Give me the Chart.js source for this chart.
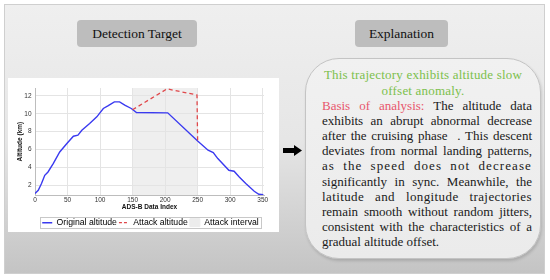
<!DOCTYPE html>
<html>
<head>
<meta charset="utf-8">
<script src="https://cdn.jsdelivr.net/npm/chart.js@4.4.1/dist/chart.umd.min.js"></script>
<style>
  html, body { margin: 0; padding: 0; background: #ffffff; }
  body { width: 550px; height: 280px; position: relative; overflow: hidden; }
  #outer { position: absolute; left: 4px; top: 4px; width: 539px; height: 268px;
    border: 1px solid #cfcfcf;
    background: linear-gradient(to bottom, #efefef 0%, #e6e6e6 50%, #c4c4c4 100%); }
  .tag { position: absolute; top: 20px; height: 27px; background: #bdbdbd; border-radius: 4px;
    font-family: "Liberation Serif", serif; font-size: 13.5px; color: #111;
    display: flex; align-items: center; justify-content: center; }
  #panel { position: absolute; left: 8px; top: 78px; width: 271px; height: 154px; background: #ffffff; }
  #c { position: absolute; left: 0; top: 0; }
  #bubble { position: absolute; left: 305px; top: 58px; width: 234px; height: 199px;
    border: 1px solid #c4c4c4; border-radius: 34px;
    background: linear-gradient(to bottom, #f1f1f1, #ebebeb);
    box-shadow: 1px 2px 3px rgba(0,0,0,0.15); }
  .ln { position: absolute; left: 322px; width: 210px; font-family: "Liberation Serif", serif;
    font-size: 13px; line-height: 15px; height: 15px; color: #1a1a1a; white-space: nowrap;
    text-align: justify; text-align-last: justify; }
  .g { color: #7cc04c; text-align: center; text-align-last: center; left: 313px; width: 220px; letter-spacing: 0.2px; }
  .r { color: #e8566c; }
  .last { text-align: left; text-align-last: left; }
  #arrow { position: absolute; left: 283px; top: 145px; }
</style>
</head>
<body>
<div id="outer"></div>
<div class="tag" style="left:77px;width:120px;">Detection Target</div>
<div class="tag" style="left:355px;width:93px;">Explanation</div>
<div id="panel"><canvas id="c" width="271" height="160"></canvas></div>
<svg id="arrow" width="20" height="11" viewBox="0 0 20 11"><path d="M0 3 H11 V0 L19 5.5 L11 11 V8 H0 Z" fill="#000"/></svg>
<div id="bubble"></div>
<div class="ln g" style="top:67px;">This trajectory exhibits altitude slow</div>
<div class="ln g" style="top:83px;">offset anomaly.</div>
<div class="ln" style="top:98px;"><span class="r">Basis of analysis:</span> The altitude data</div>
<div class="ln" style="top:113px;">exhibits an abrupt abnormal decrease</div>
<div class="ln" style="top:128px;">after the cruising phase&nbsp; . This descent</div>
<div class="ln" style="top:143px;">deviates from normal landing patterns,</div>
<div class="ln" style="top:158px;letter-spacing:1.1px;">as the speed does not decrease</div>
<div class="ln" style="top:174px;">significantly in sync. Meanwhile, the</div>
<div class="ln" style="top:189px;letter-spacing:0.4px;">latitude and longitude trajectories</div>
<div class="ln" style="top:204px;">remain smooth without random jitters,</div>
<div class="ln" style="top:219px;">consistent with the characteristics of a</div>
<div class="ln last" style="top:234px;">gradual altitude offset.</div>
<script>
// ---- data ----
const xTicks = [0, 50, 100, 150, 200, 250, 300, 350];
const yTicks = [2, 4, 6, 8, 10, 12];
const originalIndex = [0, 5, 10, 15, 20, 28, 38, 49, 59, 66, 72, 84, 95, 105, 112, 122, 130, 138, 148, 156, 204, 250, 266, 274, 281, 298, 306, 314, 324, 337, 344, 351];
const originalAltitude = [1.07, 1.44, 2.19, 3.12, 3.49, 4.43, 5.73, 6.67, 7.49, 7.6, 8.16, 8.9, 9.65, 10.59, 10.88, 11.33, 11.33, 10.96, 10.59, 10.14, 10.1, 6.95, 5.92, 5.66, 4.99, 3.68, 3.57, 2.93, 2.19, 1.33, 1.0, 0.96];
const attackIndex = [150, 203, 249, 250];
const attackAltitude = [10.45, 12.78, 12.1, 6.95];
const attackInterval = [150, 250];
const seriesNames = ['Original altitude', 'Attack altitude', 'Attack interval'];

const toPts = (xs, ys) => xs.map((x, i) => ({ x: x, y: ys[i] }));

const shadePlugin = {
  id: 'shade',
  beforeDraw(chart) {
    const { ctx, chartArea, scales } = chart;
    const x0 = scales.x.getPixelForValue(attackInterval[0]);
    const x1 = scales.x.getPixelForValue(attackInterval[1]);
    ctx.save();
    ctx.fillStyle = '#efefef';
    ctx.fillRect(x0, chartArea.top, x1 - x0, chartArea.bottom - chartArea.top);
    ctx.restore();
  }
};
const legendBoxPlugin = {
  id: 'legendBox',
  afterUpdate(chart) {
    const lg = chart.legend;
    const dx = 10, dy = 6;
    lg.left += dx; lg.right += dx;
    lg.top += dy; lg.bottom += dy;
    (lg.legendHitBoxes || []).forEach(b => { b.left += dx; b.top += dy; });
  },
  afterDraw(chart) {
    const boxes = chart.legend.legendHitBoxes;
    if (!boxes || !boxes.length) return;
    const l = Math.min(...boxes.map(b => b.left)) - 2;
    const r = Math.max(...boxes.map(b => b.left + b.width)) + 2;
    const t = Math.min(...boxes.map(b => b.top)) - 1;
    const b = Math.max(...boxes.map(b => b.top + b.height)) + 1;
    const ctx = chart.ctx;
    ctx.save();
    ctx.strokeStyle = '#c8c8c8';
    ctx.lineWidth = 1;
    ctx.strokeRect(Math.round(l) + 0.5, Math.round(t) + 0.5, Math.round(r - l), Math.round(b - t));
    ctx.restore();
  }
};

new Chart(document.getElementById('c'), {
  type: 'line',
  data: {
    datasets: [
      { label: seriesNames[0], data: toPts(originalIndex, originalAltitude), borderColor: '#3a3af0', borderWidth: 1.4, pointRadius: 0, tension: 0, order: 2 },
      { label: seriesNames[1], data: toPts(attackIndex, attackAltitude), borderColor: '#e0474a', borderWidth: 1.3, borderDash: [4, 3], pointRadius: 0, tension: 0, order: 1 }
    ]
  },
  options: {
    responsive: false,
    animation: false,
    devicePixelRatio: 1,
    layout: { padding: { top: 10, right: 15, left: 9, bottom: 7 } },
    scales: {
      x: {
        type: 'linear', min: 0, max: 352,
        afterBuildTicks: s => { s.ticks = xTicks.map(v => ({ value: v })); },
        afterFit: s => { s.height = 15; },
        ticks: { font: { family: 'Liberation Sans', size: 6.5, lineHeight: 1 }, color: '#333', padding: 2, maxRotation: 0 },
        grid: { color: '#e4e4e4', drawTicks: false },
        border: { color: '#bdbdbd' },
        title: { display: true, text: 'ADS-B Data Index', font: { family: 'Liberation Sans', size: 6.5, weight: 'bold', lineHeight: 1 }, color: '#111', padding: { top: 0, bottom: 0 } }
      },
      y: {
        type: 'linear', min: 0.88, max: 12.88,
        afterBuildTicks: s => { s.ticks = yTicks.map(v => ({ value: v })); },
        afterFit: s => { s.width = 18; },
        ticks: { font: { family: 'Liberation Sans', size: 6.5 }, color: '#333', padding: 3.5 },
        grid: { color: '#e4e4e4', drawTicks: false },
        border: { color: '#bdbdbd' },
        title: { display: true, text: 'Altitude (km)', font: { family: 'Liberation Sans', size: 6.5, weight: 'bold', lineHeight: 1 }, color: '#111', padding: 0 }
      }
    },
    plugins: {
      tooltip: { enabled: false },
      legend: {
        position: 'bottom',
        labels: {
          font: { family: 'Liberation Sans', size: 8.7 }, color: '#111',
          usePointStyle: true, pointStyleWidth: 10, boxHeight: 8, padding: 2,
          generateLabels: () => [
            { text: seriesNames[0], pointStyle: 'line', strokeStyle: '#3a3af0', fillStyle: '#3a3af0', lineWidth: 1.5, lineDash: [] },
            { text: seriesNames[1], pointStyle: 'line', strokeStyle: '#e0474a', fillStyle: '#e0474a', lineWidth: 1.3, lineDash: [3, 2] },
            { text: seriesNames[2], pointStyle: 'rect', strokeStyle: '#ececec', fillStyle: '#ececec', lineWidth: 1, lineDash: [] }
          ]
        }
      }
    }
  },
  plugins: [shadePlugin, legendBoxPlugin]
});
</script>
</body>
</html>
